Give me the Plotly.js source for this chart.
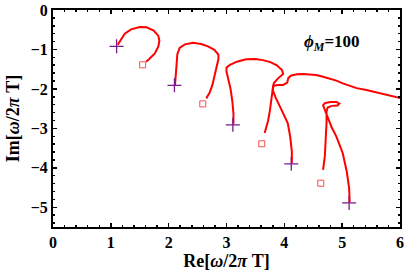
<!DOCTYPE html>
<html><head><meta charset="utf-8">
<script src="https://cdn.plot.ly/plotly-3.0.1.min.js"></script>
<style>html,body{margin:0;padding:0;background:#fff}#chart{width:407px;height:278px}</style>
</head><body><div id="chart"></div>
<script>
// Trajectories (Re, Im)
const c1x = [1.12,1.17,1.24,1.35,1.50,1.62,1.74,1.82,1.84,1.82,1.76,1.66,1.61];
const c1y = [-0.88,-0.76,-0.60,-0.49,-0.43,-0.44,-0.52,-0.65,-0.78,-0.93,-1.10,-1.25,-1.31];
const c2x = [2.11,2.12,2.13,2.14,2.15,2.19,2.28,2.42,2.56,2.68,2.79,2.86,2.86,2.83,2.80,2.76,2.71,2.65];
const c2y = [-1.90,-1.75,-1.55,-1.35,-1.12,-0.96,-0.87,-0.83,-0.86,-0.92,-1.01,-1.13,-1.25,-1.43,-1.65,-1.88,-2.09,-2.24];
const c3x = [3.12,3.12,3.10,3.07,3.03,3.00,3.00,3.06,3.18,3.34,3.50,3.63,3.76,3.87,3.96,3.98,3.90,3.82,3.80,3.78,3.75,3.72,3.69,3.66];
const c3y = [-2.88,-2.62,-2.30,-2.00,-1.75,-1.56,-1.46,-1.39,-1.31,-1.25,-1.24,-1.27,-1.32,-1.40,-1.52,-1.62,-1.72,-1.85,-2.00,-2.28,-2.55,-2.80,-3.00,-3.12];
const c4x = [4.13,4.13,4.10,4.06,3.98,3.92,3.85,3.80,3.81,3.90,3.98,4.05,4.07,4.12,4.22,4.32,4.45,4.55,4.67,4.78,4.90,5.01,5.13,5.25,5.42,5.59,5.80,6.05];
const c4y = [-3.88,-3.59,-3.20,-2.87,-2.62,-2.45,-2.22,-2.03,-1.92,-1.90,-1.90,-1.84,-1.72,-1.66,-1.63,-1.62,-1.63,-1.65,-1.69,-1.73,-1.79,-1.86,-1.93,-1.98,-2.03,-2.09,-2.16,-2.25];
const c5x = [5.13,5.12,5.08,5.01,4.95,4.90,4.82,4.75,4.70,4.67,4.70,4.80,4.90,4.95,4.92,4.82,4.75,4.73,4.73,4.72,4.71,4.70,4.67];
const c5y = [-4.87,-4.51,-4.10,-3.63,-3.40,-3.21,-2.98,-2.74,-2.55,-2.42,-2.36,-2.33,-2.33,-2.37,-2.42,-2.43,-2.47,-2.57,-2.85,-3.12,-3.45,-3.71,-4.05];
const startX = [1.10,2.10,3.11,4.12,5.12];
const startY = [-0.92,-1.91,-2.91,-3.90,-4.89];
const sqX = [1.55,2.59,3.61,4.63];
const sqY = [-1.39,-2.38,-3.39,-4.39];
const xTicks = [0,1,2,3,4,5,6];
const yTicks = [0,-1,-2,-3,-4,-5];
const labelText = "<b><i>ϕ</i><sub><i>M</i></sub>=100</b>";

const F = "Liberation Serif, Times New Roman, serif";
const curves = [[c1x,c1y],[c2x,c2y],[c3x,c3y],[c4x,c4y],[c5x,c5y]];
const data = curves.map(c => ({x:c[0], y:c[1], mode:'lines', type:'scatter',
  line:{color:'#ff0000', width:2}, hoverinfo:'skip'}));
data.push({x:sqX, y:sqY, mode:'markers', type:'scatter',
  marker:{symbol:'square-open', size:6, color:'#f05050', line:{width:1, color:'#f05050'}}});
data.push({x:startX, y:startY, mode:'markers', type:'scatter',
  marker:{symbol:'cross-thin', size:10, line:{width:1.3, color:'#7a1a8a'}}});

const axBase = {showgrid:false, zeroline:false, showline:true, linecolor:'#000', linewidth:2,
  mirror:'allticks', ticks:'inside', ticklen:4, tickwidth:1.5, tickcolor:'#000',
  tickfont:{family:F, size:16, color:'#000'}};
const layout = {
  width:407, height:278, margin:{l:53, r:7, t:10, b:51},
  paper_bgcolor:'#fff', plot_bgcolor:'#fff', showlegend:false,
  xaxis:Object.assign({}, axBase, {range:[0,6], tickvals:xTicks, ticktext:xTicks.map(v=>'<b>'+v+'</b>'),
    minor:{dtick:0.2, ticks:'inside', ticklen:2, tickwidth:1.5, tickcolor:'#000'},
    title:{text:'<b>Re[<i>ω</i>/2<i>π</i> T]</b>', font:{family:F, size:18, color:'#000'}, standoff:4}}),
  yaxis:Object.assign({}, axBase, {range:[-5.5,0], tickvals:yTicks, ticktext:yTicks.map(v=>'<b>'+(v===0?'0':'\u2212'+Math.abs(v))+'</b>'),
    minor:{dtick:0.2, tick0:0, ticks:'inside', ticklen:2, tickwidth:1.5, tickcolor:'#000'},
    title:{text:'<b>Im[<i>ω</i>/2<i>π</i> T]</b>', font:{family:F, size:18, color:'#000'}, standoff:6}}),
  annotations:[{x:4.82, y:-0.84, xref:'x', yref:'y', text:labelText, showarrow:false,
    font:{family:F, size:17, color:'#000'}}]
};
Plotly.newPlot('chart', data, layout, {displayModeBar:false, staticPlot:true});
</script></body></html>
